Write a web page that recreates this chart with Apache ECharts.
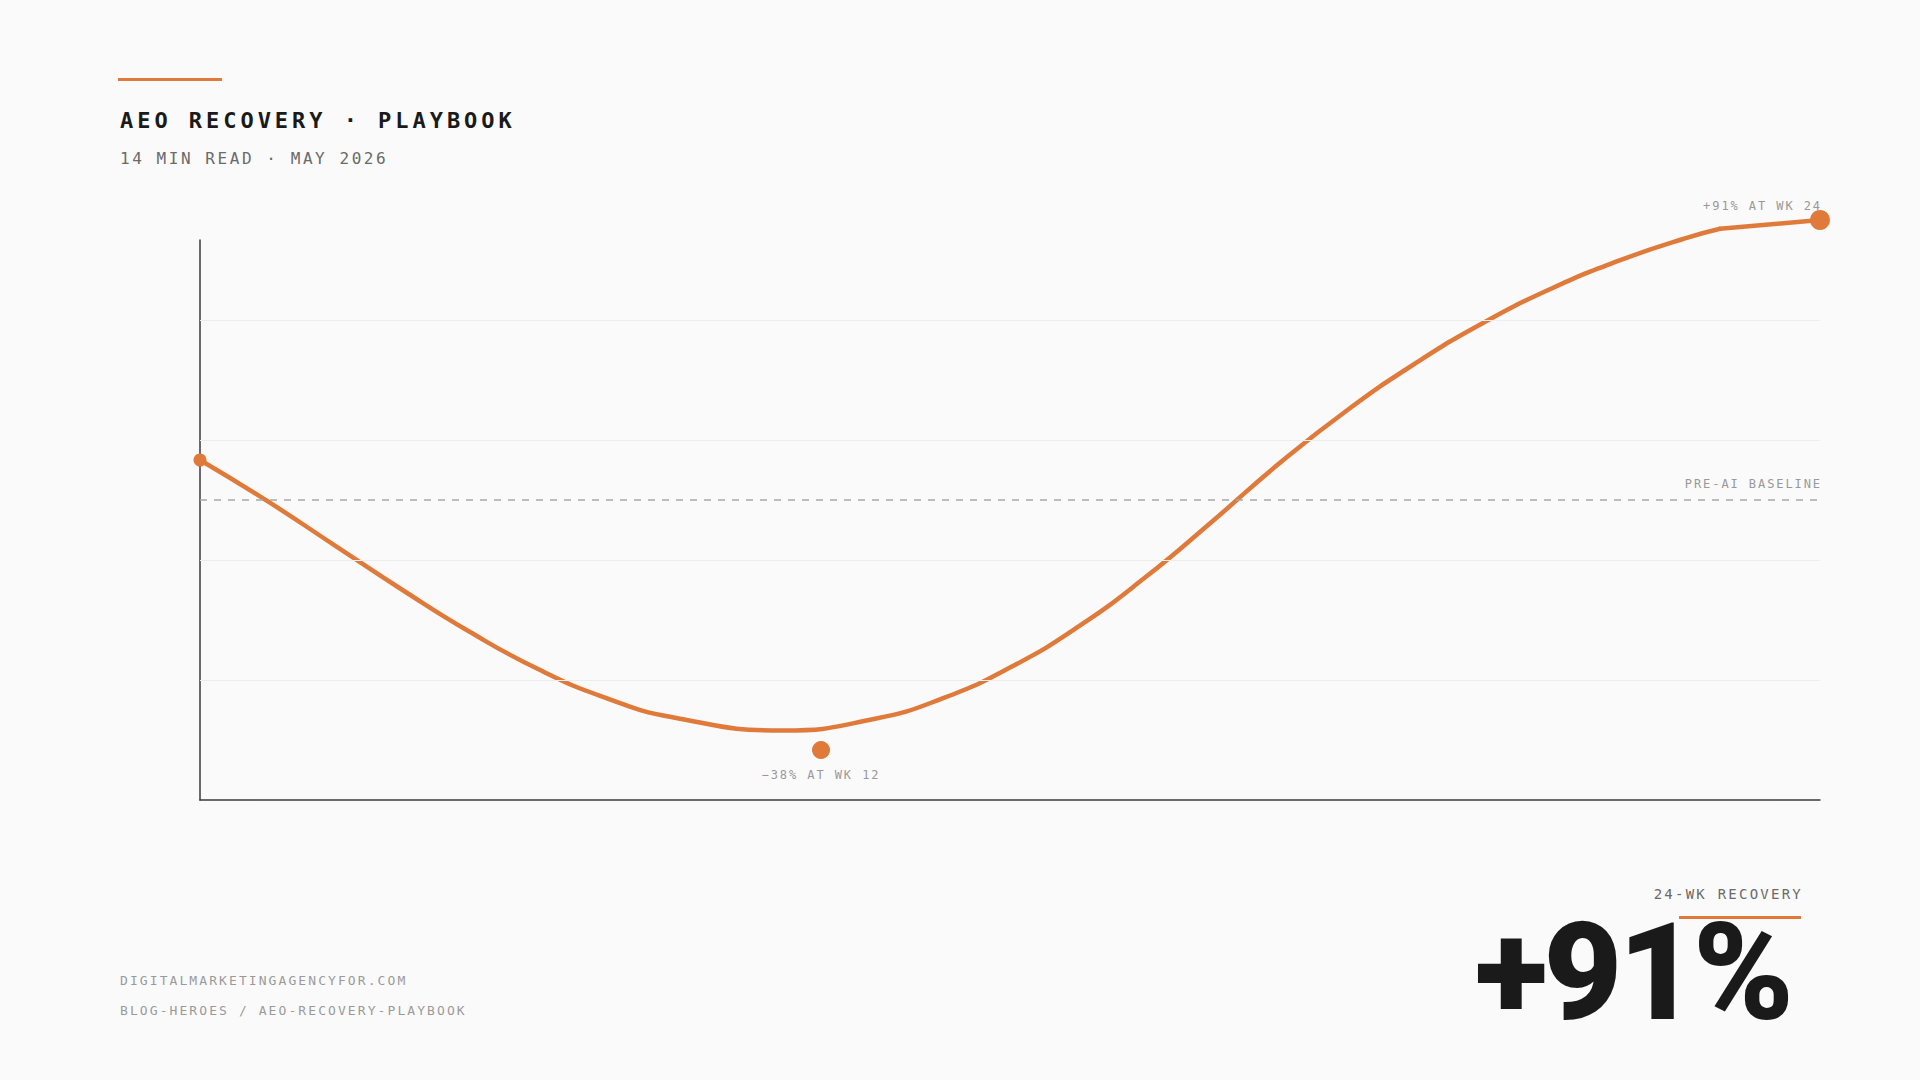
<!DOCTYPE html>
<html>
<head>
<meta charset="utf-8">
<script src="https://cdn.jsdelivr.net/npm/echarts@6/dist/echarts.min.js"></script>
<style>
  html, body { margin: 0; padding: 0; background: #fafafa; }
  #chart { width: 1920px; height: 1080px; }
  #chart svg text { letter-spacing: 0.16em; }
  #chart svg text[style*="bold 22px"] { letter-spacing: 0.18em; }
  #chart svg text[style*="Roboto"] { letter-spacing: -0.03em; }
</style>
</head>
<body>
<div id="chart"></div>
<script>
// ---- data (x = week, y = traffic index, pre-AI baseline = 75) ----
const weeks = [0, 1, 2, 3, 4, 5, 6, 7, 8.64, 10, 11, 12, 13, 14, 15, 16, 17, 18, 19, 20, 21, 22, 22.52];
const trafficIndex = [85, 74.7, 63.6, 52.5, 42.0, 32.8, 25.6, 20.7, 17.4, 20.3, 25.4, 33.1, 43.2, 55.6, 69.7, 84.3, 97.5, 109.1, 119.2, 127.7, 134.7, 140.4, 142.8];
const finalWeeks = [22.52, 24];
const finalIndex = [142.8, 145];
const markerWeeks = [0, 9.2, 24];
const markerIndex = [85, 12.5, 145];
const markerLabels = ['', '\u221238% AT WK 12', '+91% AT WK 24'];
const baselineValue = 75;
const baselineLabel = 'PRE-AI BASELINE';
const gridValues = [30, 60, 90, 120];
const headline = '+91%';

const ORANGE = '#e07a3a';
const MONO = '"DejaVu Sans Mono", "Liberation Mono", monospace';

const chart = echarts.init(document.getElementById('chart'), null, { renderer: 'svg', width: 1920, height: 1080 });

const mainData = weeks.map((w, i) => [w, trafficIndex[i]]);
const finalData = finalWeeks.map((w, i) => [w, finalIndex[i]]);
const markerSizes = [13, 18, 20];
const markerData = markerWeeks.map((w, i) => {
  const item = { value: [w, markerIndex[i]], symbolSize: markerSizes[i] };
  if (i === 1) {
    item.label = { show: true, formatter: markerLabels[i], position: 'bottom', distance: 16, verticalAlign: 'middle', align: 'center' };
  } else if (i === 2) {
    item.label = { show: true, formatter: markerLabels[i], position: 'top', distance: 4, verticalAlign: 'middle', align: 'right', offset: [2, 0] };
  }
  return item;
});

const guideLines = gridValues.map(v => ({
  yAxis: v,
  lineStyle: { color: '#ededed', width: 1, type: 'solid' },
  label: { show: false }
}));
guideLines.push({
  yAxis: baselineValue,
  lineStyle: { color: '#a8a8a8', width: 1.5, type: [7, 7] },
  label: {
    show: true, formatter: baselineLabel, position: 'insideEndTop', distance: [-2, 10],
    color: '#999', fontFamily: MONO, fontSize: 12
  }
});

const option = {
  backgroundColor: '#fafafa',
  animation: false,
  grid: { left: 200, right: 100, top: 240, bottom: 280 },
  xAxis: {
    type: 'value', min: 0, max: 24,
    axisLine: { show: true, onZero: false, lineStyle: { color: '#3a3a3a', width: 1.5 } },
    axisTick: { show: false }, axisLabel: { show: false }, splitLine: { show: false }
  },
  yAxis: {
    type: 'value', min: 0, max: 140,
    axisLine: { show: true, onZero: false, lineStyle: { color: '#3a3a3a', width: 1.5 } },
    axisTick: { show: false }, axisLabel: { show: false }, splitLine: { show: false }
  },
  series: [
    {
      name: 'guides', type: 'line', data: [], z: 1, silent: true,
      markLine: { silent: true, symbol: ['none', 'none'], animation: false, data: guideLines }
    },
    {
      name: 'recovery', type: 'line', data: mainData, smooth: 0.5, symbol: 'none', clip: false, z: 3,
      lineStyle: { color: ORANGE, width: 4.5, cap: 'round', join: 'round' }
    },
    {
      name: 'recovery-end', type: 'line', data: finalData, smooth: false, symbol: 'none', clip: false, z: 3,
      lineStyle: { color: ORANGE, width: 4.5, cap: 'round', join: 'round' }
    },
    {
      name: 'markers', type: 'scatter', data: markerData, clip: false, z: 4,
      itemStyle: { color: ORANGE, opacity: 1 },
      label: { color: '#999', fontFamily: MONO, fontSize: 12 }
    }
  ],
  graphic: [
    { type: 'rect', left: 118, top: 78, shape: { width: 104, height: 3 }, style: { fill: ORANGE } },
    { type: 'text', x: 120, y: 120, style: { text: 'AEO RECOVERY \u00b7 PLAYBOOK', font: 'bold 22px ' + MONO, fill: '#1a1a1a', align: 'left', verticalAlign: 'middle', textAlign: 'left', textVerticalAlign: 'middle' } },
    { type: 'text', x: 120, y: 158, style: { text: '14 MIN READ \u00b7 MAY 2026', font: '16px ' + MONO, fill: '#6a6a6a', align: 'left', verticalAlign: 'middle', textAlign: 'left', textVerticalAlign: 'middle' } },
    { type: 'text', x: 120, y: 980, style: { text: 'DIGITALMARKETINGAGENCYFOR.COM', font: '13px ' + MONO, fill: '#9a9a9a', align: 'left', verticalAlign: 'middle', textAlign: 'left', textVerticalAlign: 'middle' } },
    { type: 'text', x: 120, y: 1010, style: { text: 'BLOG-HEROES / AEO-RECOVERY-PLAYBOOK', font: '13px ' + MONO, fill: '#9a9a9a', align: 'left', verticalAlign: 'middle', textAlign: 'left', textVerticalAlign: 'middle' } },
    { type: 'text', x: 1803, y: 894, style: { text: '24-WK RECOVERY', font: '14px ' + MONO, fill: '#6a6a6a', align: 'right', verticalAlign: 'middle', textAlign: 'right', textVerticalAlign: 'middle' } },
    { type: 'rect', left: 1679, top: 916, shape: { width: 122, height: 3 }, style: { fill: ORANGE } },
    { type: 'text', x: 1790, y: 1022, style: { text: headline, font: '900 136px Roboto, "Liberation Sans", sans-serif', fill: '#1a1a1a', align: 'right', verticalAlign: 'bottom', textAlign: 'right', textVerticalAlign: 'bottom', lineHeight: 100 } }
  ]
};
chart.setOption(option);
</script>
</body>
</html>
